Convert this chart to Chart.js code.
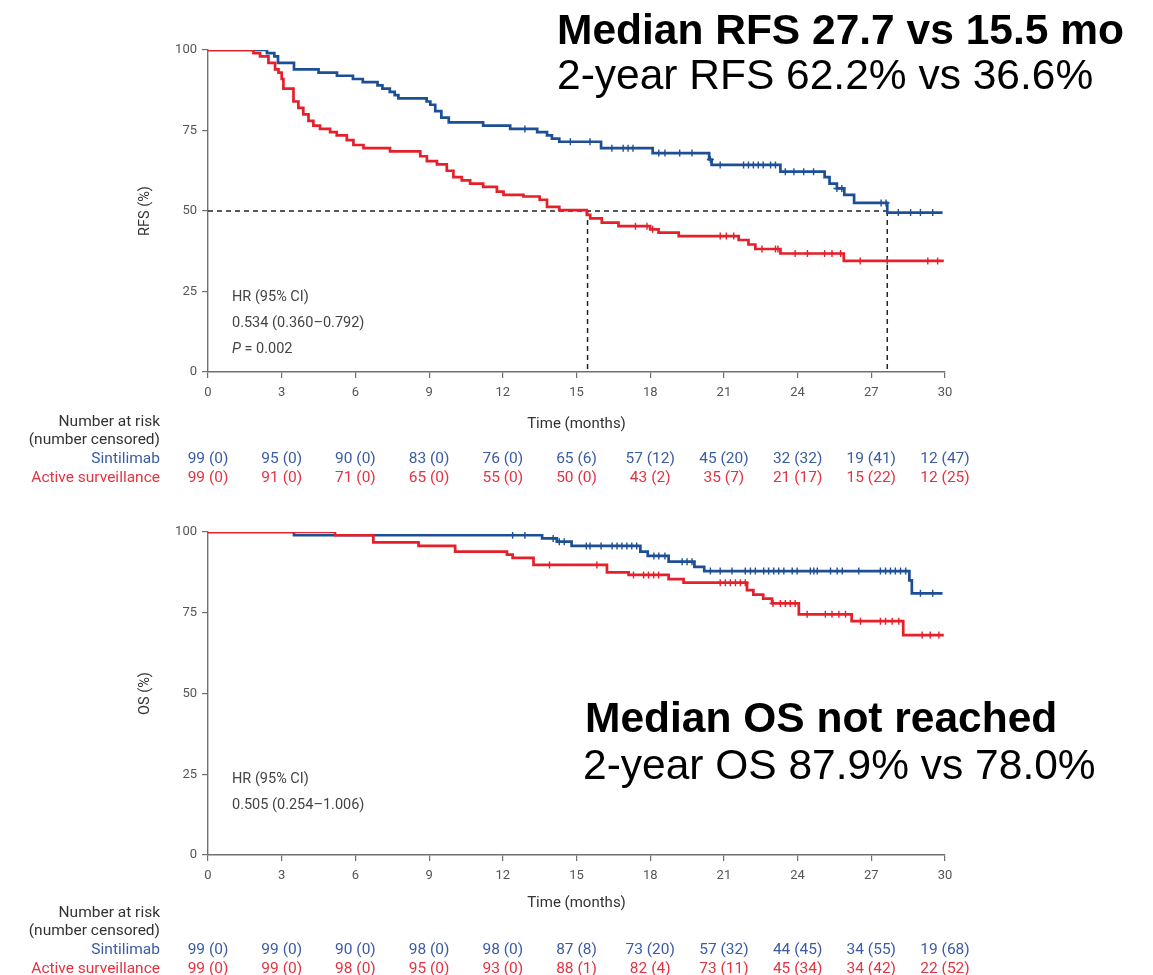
<!DOCTYPE html>
<html>
<head>
<meta charset="utf-8">
<script src="https://cdn.jsdelivr.net/npm/chart.js@4.4.0/dist/chart.umd.min.js"></script>
<style>
  body { margin: 0; background: #fff; width: 1153px; height: 975px; position: relative; overflow: hidden; }
  canvas { position: absolute; left: 0; }
  .big { position: absolute; font-family: "Liberation Sans", Arial, sans-serif; font-size: 42.5px; color: #000; white-space: nowrap; line-height: 1; }
  .b { font-weight: bold; }
</style>
</head>
<body>
<canvas id="rfs" width="1153" height="490" style="top:0"></canvas>
<canvas id="os" width="1153" height="485" style="top:490px"></canvas>
<div class="big b" style="left:557px;top:9px">Median RFS 27.7 vs 15.5 mo</div>
<div class="big" style="left:557px;top:54px">2-year RFS 62.2% vs 36.6%</div>
<div class="big b" style="left:585px;top:697px">Median OS not reached</div>
<div class="big" style="left:583px;top:744px">2-year OS 87.9% vs 78.0%</div>
<script>
// axes
const xTicks = [0, 3, 6, 9, 12, 15, 18, 21, 24, 27, 30];
const yTicks = [0, 25, 50, 75, 100];

// RFS - Sintilimab (time, % event free)
const rfsSinT = [0, 2.4, 2.7, 2.85, 3.5, 4.5, 5.25, 5.9, 6.3, 6.9, 7.1, 7.4, 7.6, 7.75, 8.9, 9.05, 9.25, 9.5, 9.8, 11.2, 12.3, 13.4, 13.8, 14.0, 14.3, 16.0, 18.1, 20.4, 20.5, 23.3, 25.1, 25.3, 25.6, 25.9, 26.3, 27.65, 29.9];
const rfsSinS = [100, 99, 98, 96, 94, 93, 92, 91, 90, 89, 88, 87, 86, 85, 84, 83, 81, 79, 77.5, 76.5, 75.5, 74.5, 73.5, 72.5, 71.5, 69.5, 68, 66, 64.3, 62.2, 60.5, 58.5, 57, 55, 52.5, 49.5, 49.5];
const rfsSinCens = [12.9, 14.75, 15.55, 16.44, 16.9, 17.1, 17.3, 18.35, 18.6, 19.2, 19.7, 20.45, 20.85, 21.8, 22.0, 22.2, 22.4, 22.6, 22.9, 23.1, 23.5, 23.85, 24.25, 24.65, 25.6, 25.8, 27.4, 27.6, 28.1, 28.6, 29.0, 29.5];

// RFS - Active surveillance
const rfsActT = [0, 1.85, 2.12, 2.46, 2.73, 2.87, 3.0, 3.07, 3.48, 3.68, 3.88, 4.09, 4.29, 4.56, 4.97, 5.24, 5.65, 5.92, 6.33, 7.41, 8.64, 8.91, 9.32, 9.72, 9.99, 10.33, 10.67, 11.2, 11.76, 12.03, 12.84, 13.5, 13.8, 14.3, 15.42, 15.56, 16.03, 16.71, 18.0, 18.34, 19.16, 21.6, 22.0, 22.28, 23.3, 25.88, 29.95];
const rfsActS = [100, 99, 98, 96, 94, 93, 91, 88, 84, 82, 80, 78, 76.5, 75.5, 74.5, 73.5, 72, 70.5, 69.5, 68.5, 67, 65.5, 64.5, 62.5, 60.5, 59.5, 58.5, 57.5, 56, 55, 54.5, 53.5, 51.3, 50.3, 48.8, 47.7, 46.4, 45.3, 44.3, 43.3, 42.2, 41, 39.6, 38.2, 36.8, 34.5, 34.5];
const rfsActCens = [17.4, 17.87, 18.1, 20.85, 21.1, 21.4, 22.55, 23.1, 23.2, 23.9, 24.4, 25.1, 25.4, 25.75, 26.55, 27.65, 29.3, 29.7];

// OS - Sintilimab
const osSinT = [0, 3.5, 13.6, 14.2, 14.8, 17.6, 17.9, 18.75, 19.8, 20.2, 28.55, 28.65, 29.9];
const osSinS = [100, 99, 98, 97, 95.7, 93.9, 92.6, 90.8, 89.2, 87.9, 85, 81, 81];
const osSinCens = [12.4, 12.9, 14.05, 14.3, 14.5, 15.4, 15.55, 16.0, 16.45, 16.65, 16.85, 17.05, 17.25, 17.45, 18.15, 18.35, 18.6, 19.3, 19.5, 19.7, 20.45, 20.85, 21.33, 21.87, 22.08, 22.28, 22.62, 22.82, 23.03, 23.23, 23.44, 23.78, 23.98, 24.52, 24.66, 24.8, 25.34, 25.61, 25.82, 26.49, 27.37, 27.58, 27.78, 27.98, 28.19, 28.4, 29.0, 29.5];

// OS - Active surveillance
const osActT = [0, 5.17, 6.73, 8.57, 10.06, 12.17, 12.4, 13.25, 16.24, 17.12, 18.75, 19.36, 21.94, 22.2, 22.6, 22.96, 24.05, 26.2, 28.3, 29.95];
const osActS = [100, 99, 96.8, 95.7, 93.9, 93, 92, 89.8, 87.5, 86.7, 85.4, 84.3, 82, 80.6, 79.4, 77.9, 74.5, 72.4, 68.1, 68.1];
const osActCens = [13.9, 15.83, 17.32, 17.73, 17.93, 18.14, 18.34, 20.85, 21.06, 21.26, 21.47, 21.67, 21.87, 23.0, 23.3, 23.5, 23.7, 23.9, 24.39, 25.13, 25.4, 25.68, 25.95, 26.56, 27.37, 27.58, 27.85, 28.12, 29.07, 29.4, 29.75];

// medians (RFS)
const rfsMedians = [15.45, 27.65];

// number at risk (number censored) at xTicks
const rfsRiskSin = [99, 95, 90, 83, 76, 65, 57, 45, 32, 19, 12];
const rfsCensSin = [0, 0, 0, 0, 0, 6, 12, 20, 32, 41, 47];
const rfsRiskAct = [99, 91, 71, 65, 55, 50, 43, 35, 21, 15, 12];
const rfsCensAct = [0, 0, 0, 0, 0, 0, 2, 7, 17, 22, 25];
const osRiskSin = [99, 99, 90, 98, 98, 87, 73, 57, 44, 34, 19];
const osCensSin = [0, 0, 0, 0, 0, 8, 20, 32, 45, 55, 68];
const osRiskAct = [99, 99, 98, 95, 93, 88, 82, 73, 45, 34, 22];
const osCensAct = [0, 0, 0, 0, 0, 1, 4, 11, 34, 42, 52];

const BLUE = "#1d4f96";
const RED = "#e5202a";
const BLUE_TXT = "#3b5ca3";
const RED_TXT = "#e23441";
const FONT = "Roboto, 'Noto Sans', sans-serif";

function kmPoints(t, s) {
    return t.map((x, i) => ({ x: x, y: s[i] }));
}
// put each censor mark on the curve level at that time
function censorPoints(cens, t, s) {
    return cens.map(c => {
        let y = s[0];
        for (let i = 0; i < t.length; i++) if (t[i] <= c) y = s[i];
        return { x: c, y: y };
    });
}

function curve(label, t, s, color) {
    return {
        label: label, data: kmPoints(t, s), borderColor: color, borderWidth: 2.7,
        stepped: "before", pointRadius: 0, fill: false
    };
}
function marks(label, cens, t, s, color) {
    return {
        label: label, data: censorPoints(cens, t, s), showLine: false,
        pointStyle: "cross", pointRadius: 3.5, borderColor: color, borderWidth: 1.4
    };
}
function dashed(points) {
    return {
        data: points, borderColor: "#222", borderWidth: 1.5, borderDash: [5, 4],
        pointRadius: 0, fill: false
    };
}

// texts drawn around the plot: axis title, HR box, risk table
const overlayPlugin = {
    id: "overlay",
    afterDraw(chart, args, o) {
        const ctx = chart.ctx;
        const area = chart.chartArea;
        const x = chart.scales.x;
        ctx.save();
        // y title
        ctx.fillStyle = "#333";
        ctx.font = "14.5px " + FONT;
        ctx.textAlign = "center";
        ctx.textBaseline = "middle";
        ctx.translate(145, (area.top + area.bottom) / 2);
        ctx.rotate(-Math.PI / 2);
        ctx.fillText(o.yTitle, 0, 0);
        ctx.setTransform(1, 0, 0, 1, 0, 0);
        // x title
        ctx.font = "15px " + FONT;
        ctx.fillText("Time (months)", x.getPixelForValue(15), area.bottom + o.xTitleGap);
        // HR text
        ctx.textAlign = "left";
        ctx.font = "14.5px " + FONT;
        ctx.fillStyle = "#444";
        o.hr.forEach((line, i) => {
            const yy = area.bottom - o.hrBottom + i * 26;
            if (line.startsWith("P")) {
                ctx.font = "italic 14.5px " + FONT;
                ctx.fillText("P", 232, yy);
                const w = ctx.measureText("P").width;
                ctx.font = "14.5px " + FONT;
                ctx.fillText(line.slice(1), 232 + w, yy);
            } else {
                ctx.fillText(line, 232, yy);
            }
        });
        // risk table
        const top = o.tableTop;
        ctx.font = "15.5px " + FONT;
        ctx.textAlign = "right";
        ctx.fillStyle = "#333";
        ctx.fillText("Number at risk", 160, top);
        ctx.fillText("(number censored)", 160, top + 18);
        ctx.fillStyle = BLUE_TXT;
        ctx.fillText("Sintilimab", 160, top + 37);
        ctx.fillStyle = RED_TXT;
        ctx.fillText("Active surveillance", 160, top + 56);
        ctx.textAlign = "center";
        xTicks.forEach((t, i) => {
            const px = x.getPixelForValue(t);
            ctx.fillStyle = BLUE_TXT;
            ctx.fillText(o.riskSin[i] + " (" + o.censSin[i] + ")", px, top + 37);
            ctx.fillStyle = RED_TXT;
            ctx.fillText(o.riskAct[i] + " (" + o.censAct[i] + ")", px, top + 56);
        });
        ctx.restore();
    }
};

function makeChart(id, datasets, padTop, padBottom, overlay) {
    const axisColor = "#707070";
    return new Chart(document.getElementById(id), {
        type: "line",
        data: { datasets: datasets },
        plugins: [overlayPlugin],
        options: {
            responsive: false,
            animation: false,
            layout: { padding: { left: 0, right: 208, top: padTop, bottom: padBottom } },
            plugins: { legend: { display: false }, tooltip: { enabled: false }, overlay: overlay },
            scales: {
                x: {
                    type: "linear", min: 0, max: 30,
                    afterBuildTicks: s => { s.ticks = xTicks.map(v => ({ value: v })); },
                    afterFit: s => { s.height = 40; },
                    border: { display: true, color: axisColor, width: 1.4 },
                    grid: { drawOnChartArea: false, drawTicks: true, tickLength: 6, color: axisColor, lineWidth: 1.2 },
                    ticks: { color: "#555", font: { family: FONT, size: 13 }, padding: 7, maxRotation: 0 }
                },
                y: {
                    min: 0, max: 100,
                    afterBuildTicks: s => { s.ticks = yTicks.map(v => ({ value: v })); },
                    afterFit: s => { s.width = 208; },
                    border: { display: true, color: axisColor, width: 1.4 },
                    grid: { drawOnChartArea: false, drawTicks: true, tickLength: 6, color: axisColor, lineWidth: 1.2 },
                    ticks: { color: "#555", font: { family: FONT, size: 13 }, padding: 5 }
                }
            }
        }
    });
}

const rfsData = [
    curve("Active surveillance", rfsActT, rfsActS, RED),
    marks("Active surveillance censored", rfsActCens, rfsActT, rfsActS, RED),
    curve("Sintilimab", rfsSinT, rfsSinS, BLUE),
    marks("Sintilimab censored", rfsSinCens, rfsSinT, rfsSinS, BLUE),
    dashed([{ x: 0, y: 50 }, { x: rfsMedians[1], y: 50 }]),
    dashed([{ x: rfsMedians[0], y: 50 }, { x: rfsMedians[0], y: 0 }]),
    dashed([{ x: rfsMedians[1], y: 50 }, { x: rfsMedians[1], y: 0 }])
];
rfsData.forEach((d, i) => { d.order = i < 4 ? i : 10; });

const osData = [
    curve("Active surveillance", osActT, osActS, RED),
    marks("Active surveillance censored", osActCens, osActT, osActS, RED),
    curve("Sintilimab", osSinT, osSinS, BLUE),
    marks("Sintilimab censored", osSinCens, osSinT, osSinS, BLUE)
];

makeChart("rfs", rfsData, 50, 78, {
    yTitle: "RFS (%)", xTitleGap: 52, hrBottom: 75,
    hr: ["HR (95% CI)", "0.534 (0.360\u20130.792)", "P = 0.002"],
    tableTop: 422,
    riskSin: rfsRiskSin, censSin: rfsCensSin, riskAct: rfsRiskAct, censAct: rfsCensAct
});

makeChart("os", osData, 42, 80, {
    yTitle: "OS (%)", xTitleGap: 48, hrBottom: 76,
    hr: ["HR (95% CI)", "0.505 (0.254\u20131.006)"],
    tableTop: 423,
    riskSin: osRiskSin, censSin: osCensSin, riskAct: osRiskAct, censAct: osCensAct
});
</script>
</body>
</html>
